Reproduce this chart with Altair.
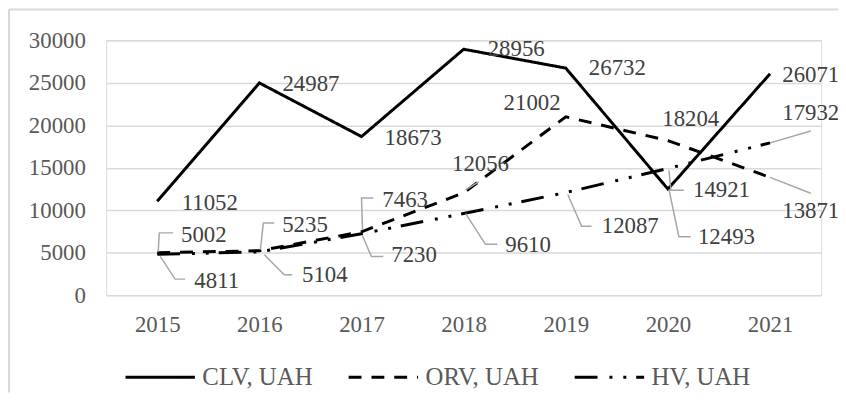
import altair as alt
import pandas as pd

years = ["2015", "2016", "2017", "2018", "2019", "2020", "2021"]
series_names = ["CLV, UAH", "ORV, UAH", "HV, UAH"]
clv = [11052, 24987, 18673, 28956, 26732, 12493, 26071]
orv = [5002, 5235, 7463, 12056, 21002, 18204, 13871]
hv = [4811, 5104, 7230, 9610, 12087, 14921, 17932]

# label offsets in pixels from the data point (layout only)
clv_dx = [53, 52, 52, 53, 52, 59, 41]
clv_dy = [2, 1, 1, 0, 0, 48, 1]
orv_dx = [47, 46, 44, 17, -34, 23, 41]
orv_dy = [-18, -26, -32, -29, -14, -22, 34]
hv_dx = [60, 66, 53, 65, 65, 54, 41]
hv_dy = [27, 23, 21, 32, 34, 22, -30]

# leader lines: (series index, year index, list of pixel offsets from the point)
leaders = [
    (1, 0, [(1, -1), (2, -20), (16, -20)]),
    (2, 0, [(3, 2), (18, 25), (28, 25)]),
    (1, 1, [(1, -1), (4, -28), (15, -28)]),
    (2, 1, [(5, 3), (25, 23), (33, 23)]),
    (1, 2, [(1, -2), (0, -34), (12, -34)]),
    (2, 2, [(1, 2), (10, 23), (22, 23)]),
    (1, 3, [(2, -3), (15, -11)]),
    (2, 3, [(2, 0), (22, 31), (34, 31)]),
    (2, 4, [(2, 2), (16, 34), (26, 34)]),
    (2, 5, [(1, 2), (3, 22), (16, 22)]),
    (0, 5, [(1, 0), (11, 48), (23, 48)]),
    (1, 6, [(0, 0), (41, 16)]),
    (2, 6, [(0, 0), (41, -12)]),
]

PLOT_W, PLOT_H = 721, 257
Y_MAX = 30000
PX = Y_MAX / PLOT_H  # value units per pixel

values = [clv, orv, hv]
dxs = [clv_dx, orv_dx, hv_dx]
dys = [clv_dy, orv_dy, hv_dy]

rows = []
for s, name in enumerate(series_names):
    for i, yr in enumerate(years):
        rows.append({"year": yr, "series": name, "value": values[s][i],
                     "dx": dxs[s][i], "dy": dys[s][i], "order": i})
df = pd.DataFrame(rows)

lrows = []
for k, (s, i, pts) in enumerate(leaders):
    for j, (ox, oy) in enumerate(pts):
        lrows.append({"seg": k, "ord": j, "year": years[i], "value": values[s][i],
                      "ox": ox, "oy": oy})
ldf = pd.DataFrame(lrows)

FONT = "Liberation Serif"
xscale = alt.Scale(type="point", padding=0.5, domain=years)
yscale = alt.Scale(domain=[0, Y_MAX], nice=False)

x_enc = alt.X("year:O", scale=xscale,
              axis=alt.Axis(title=None, labelAngle=0, domain=False, ticks=False,
                            labelFont=FONT, labelFontSize=23, labelColor="#595959",
                            labelPadding=19, grid=False))
y_enc = alt.Y("value:Q", scale=yscale,
              axis=alt.Axis(title=None, values=[0, 5000, 10000, 15000, 20000, 25000, 30000],
                            format="d", domain=False, ticks=False, labelFont=FONT,
                            labelFontSize=23, labelColor="#595959", labelPadding=21,
                            gridColor="#d9d9d9", gridWidth=1.5))

lines = alt.Chart(df).mark_line(color="black", strokeWidth=3).encode(
    x=x_enc,
    y=y_enc,
    strokeDash=alt.StrokeDash("series:N",
        scale=alt.Scale(domain=series_names, range=[[1, 0], [13, 10], [23, 12, 3, 11, 3, 10]]),
        legend=alt.Legend(title=None, orient="none", direction="horizontal",
                          legendX=18, legendY=303, symbolType="stroke",
                          symbolStrokeColor="black", symbolStrokeWidth=3, symbolSize=4900,
                          labelFont=FONT, labelFontSize=25, labelColor="#595959",
                          labelOffset=6, columnPadding=29, padding=0)),
    order="order:Q",
)

leader_lines = alt.Chart(ldf).mark_line(color="#a6a6a6", strokeWidth=1.5).transform_calculate(
    ly=f"datum.value - datum.oy * {PX}"
).encode(
    x=alt.X("year:O", scale=xscale),
    y=alt.Y("ly:Q", scale=yscale),
    xOffset=alt.XOffset("ox:Q", scale=None),
    detail="seg:N",
    order="ord:Q",
)

labels = alt.Chart(df).mark_text(font=FONT, fontSize=23, color="#404040",
                                 align="center", baseline="middle").transform_calculate(
    ly=f"datum.value - datum.dy * {PX}"
).encode(
    x=alt.X("year:O", scale=xscale),
    y=alt.Y("ly:Q", scale=yscale),
    xOffset=alt.XOffset("dx:Q", scale=None),
    text="value:Q",
)

frame_data = alt.Data(values=[{"a": 1}])
frame_top = alt.Chart(frame_data).mark_rule(color="#d9d9d9", strokeWidth=2).encode(
    x=alt.value(-98), x2=alt.value(760), y=alt.value(-31))
frame_left = alt.Chart(frame_data).mark_rule(color="#d9d9d9", strokeWidth=2).encode(
    x=alt.value(-98), y=alt.value(-31), y2=alt.value(355))

chart = alt.layer(frame_top, frame_left, lines, leader_lines, labels).properties(
    width=PLOT_W, height=PLOT_H,
    autosize=alt.AutoSizeParams(type="none"),
    padding={"left": 99, "top": 31, "right": 17, "bottom": 98},
).configure_view(stroke=None).configure(background="white")

chart.save("out.html", embed_options={"renderer": "svg", "actions": False})
